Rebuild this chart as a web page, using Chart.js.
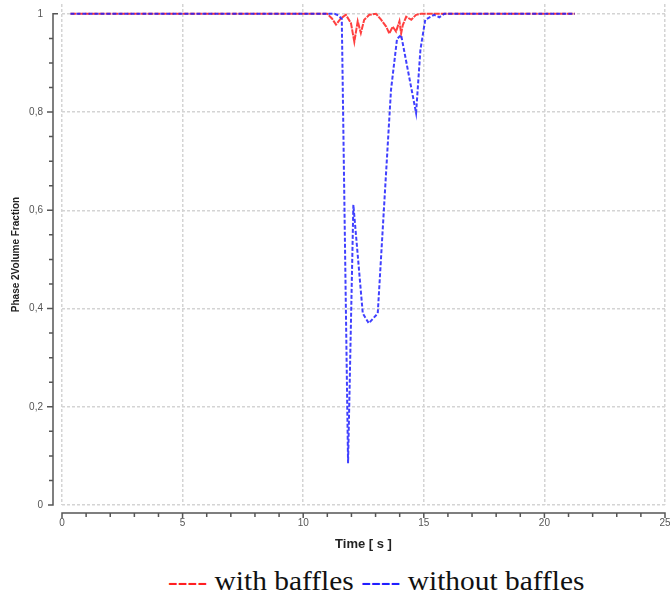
<!DOCTYPE html>
<html>
<head>
<meta charset="utf-8">
<script src="https://cdn.jsdelivr.net/npm/chart.js@4/dist/chart.umd.min.js"></script>
<style>
  body { margin: 0; background: #fff; }
  #wrap { position: relative; width: 670px; height: 598px; overflow: hidden; }
  #chart { position: absolute; left: 0; top: 0; }
  #legend {
    position: absolute; left: 168px; top: 568px;
    font-family: "Liberation Serif", "Times New Roman", serif;
    font-size: 27px; line-height: 1; color: #111; white-space: nowrap;
    transform: scaleX(1.09); transform-origin: left top;
  }
  .red { color: #ff2020; }
  .blue { color: #2020ff; }
</style>
</head>
<body>
<div id="wrap">
  <canvas id="chart" width="670" height="552"></canvas>
  <div id="legend"><span class="red">----</span> with baffles <span class="blue">----</span> without baffles</div>
</div>
<script>
// --- data
const blueTime = [0.35, 11.3, 11.45, 11.6, 11.86, 12.08, 12.47, 12.72, 13.09, 13.64, 13.89, 14.06, 14.68, 14.86, 15.06, 15.43, 15.64, 15.85, 21.26];
const blueFrac = [1, 1, 0.997, 0.99, 0.085, 0.611, 0.39, 0.37, 0.39, 0.845, 0.949, 0.957, 0.798, 0.927, 0.988, 0.998, 0.993, 1, 1];

const redTime = [0.35, 11.0, 11.2, 11.36, 11.57, 11.77, 11.98, 12.12, 12.26, 12.39, 12.53, 12.74, 13.02, 13.23, 13.44, 13.57, 13.71, 13.85, 13.99, 14.06, 14.13, 14.27, 14.48, 14.68, 14.89, 21.26];
const redFrac = [1, 1, 0.99, 0.978, 0.991, 0.998, 0.981, 0.943, 0.985, 0.961, 0.988, 0.998, 1, 0.988, 0.974, 0.96, 0.974, 0.964, 0.985, 0.96, 0.977, 0.994, 0.988, 0.998, 1, 1];

const yTicks = [0, 0.2, 0.4, 0.6, 0.8, 1];

const toPoints = (xs, ys) => xs.map((x, i) => ({ x: x, y: ys[i] }));

// --- axes drawn a few px away from the plot, with minor ticks
const offsetAxes = {
  id: "offsetAxes",
  afterDraw(chart) {
    const ctx = chart.ctx;
    const xs = chart.scales.x, ys = chart.scales.y;
    ctx.save();
    ctx.strokeStyle = "#555";
    ctx.lineWidth = 1.5;

    // y axis
    const ax = xs.left - 9;
    const yTop = ys.getPixelForValue(1), yBot = ys.getPixelForValue(0);
    ctx.beginPath();
    ctx.moveTo(ax + 5, yTop); ctx.lineTo(ax, yTop);
    ctx.lineTo(ax, yBot); ctx.lineTo(ax - 5, yBot);
    for (let k = 1; k < 20; k++) {
      const py = ys.getPixelForValue(k * 0.05);
      ctx.moveTo(ax, py);
      ctx.lineTo(ax - (k % 4 === 0 ? 6 : 4), py);
    }
    ctx.stroke();

    // x axis
    const ay = ys.bottom + 8;
    const xL = xs.getPixelForValue(0), xR = xs.getPixelForValue(25);
    ctx.beginPath();
    ctx.moveTo(xL, ay + 5); ctx.lineTo(xL, ay);
    ctx.lineTo(xR, ay); ctx.lineTo(xR, ay + 5);
    for (let k = 1; k < 25; k++) {
      const px = xs.getPixelForValue(k);
      ctx.moveTo(px, ay);
      ctx.lineTo(px, ay + (k % 5 === 0 ? 5 : 4));
    }
    ctx.stroke();
    ctx.restore();
  }
};

new Chart(document.getElementById("chart"), {
  type: "line",
  data: {
    datasets: [
      {
        label: "without baffles",
        data: toPoints(blueTime, blueFrac),
        borderColor: "rgba(30,30,255,0.85)",
        borderWidth: 2,
        borderDash: [4, 2],
        pointRadius: 0,
        tension: 0,
        fill: false
      },
      {
        label: "with baffles",
        data: toPoints(redTime, redFrac),
        borderColor: "rgba(255,30,30,0.85)",
        borderWidth: 2,
        borderDash: [6, 1],
        pointRadius: 0,
        tension: 0,
        fill: false
      }
    ]
  },
  options: {
    responsive: false,
    animation: false,
    devicePixelRatio: 1,
    layout: { padding: { left: 0, right: 5, top: 4, bottom: 0 } },
    plugins: {
      legend: { display: false },
      tooltip: { enabled: false }
    },
    scales: {
      x: {
        type: "linear",
        min: 0,
        max: 25,
        grid: { color: "#d4d4d4", lineWidth: 1.5, drawTicks: false },
        border: { display: false, dash: [3, 2] },
        ticks: {
          stepSize: 5,
          padding: 12,
          color: "#555",
          font: { family: "Liberation Sans", size: 10 }
        },
        title: {
          display: true,
          text: "Time [ s ]",
          color: "#222",
          font: { family: "Liberation Sans", size: 13, weight: "bold" },
          padding: { top: 6, bottom: 0 }
        },
        afterFit(scale) {
          scale.height = 47;
          scale.paddingLeft = 0;
          scale.paddingRight = 0;
        }
      },
      y: {
        min: 0,
        max: 1.02,
        grid: { color: "#d4d4d4", lineWidth: 1.5, drawTicks: false },
        border: { display: false, dash: [3, 2] },
        afterBuildTicks(scale) { scale.ticks = yTicks.map(v => ({ value: v })); },
        ticks: {
          padding: 19,
          color: "#555",
          font: { family: "Liberation Sans", size: 10 },
          callback: v => String(Math.round(v * 10) / 10).replace(".", ",")
        },
        title: {
          display: true,
          text: "Phase 2Volume Fraction",
          color: "#222",
          font: { family: "Liberation Sans", size: 10, weight: "bold" },
          padding: { top: 10, bottom: 0 }
        },
        afterFit(scale) {
          scale.width = 62;
          scale.paddingTop = 0;
          scale.paddingBottom = 0;
        }
      }
    }
  },
  plugins: [offsetAxes]
});
</script>
</body>
</html>
